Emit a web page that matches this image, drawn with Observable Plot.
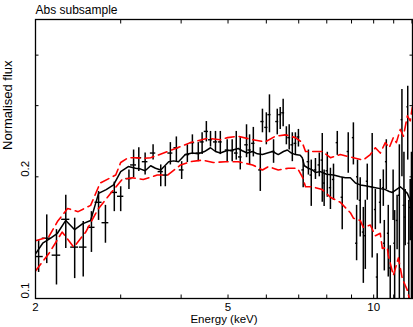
<!DOCTYPE html>
<html><head><meta charset="utf-8">
<script src="https://cdn.jsdelivr.net/npm/d3@7"></script>
<script src="https://cdn.jsdelivr.net/npm/@observablehq/plot@0.6"></script>
<style>
html,body{margin:0;padding:0;background:#fff;}
svg{display:block}
</style></head><body><div id="chart"></div>
<script>
// Observed spectrum (keV, normalised flux, 1-sigma lower/upper)
const energy = [2.03,2.11,2.21,2.31,2.41,2.51,2.61,2.70,2.79,2.91,3.00,3.12,3.19,3.27,3.37,3.50,3.63,3.71,3.80,3.91,
  4.01,4.12,4.22,4.34,4.42,4.51,4.60,4.71,4.82,4.98,5.10,5.20,5.30,5.46,5.54,5.64,5.83,5.89,6.00,6.09,
  6.21,6.32,6.41,6.50,6.60,6.69,6.79,6.89,6.99,7.15,7.33,7.43,7.58,7.72,7.83,7.90,8.02,8.14,8.26,8.41,
  8.61,8.86,9.08,9.22,9.26,9.38,9.52,9.61,9.70,9.93,10.08,10.17,10.32,10.47,10.52,10.62,10.72,10.82,10.97,11.05,
  11.18,11.30,11.44,11.55,11.62,11.76,11.82,11.90,11.97];
const flux = [0.127,0.141,0.128,0.157,0.134,0.134,0.150,0.173,0.154,0.183,0.179,0.198,0.214,0.223,0.218,0.229,0.206,0.202,0.229,0.236,
  0.208,0.227,0.243,0.229,0.244,0.259,0.247,0.244,0.244,0.233,0.232,0.229,0.224,0.240,0.233,0.242,0.208,0.274,0.265,0.285,
  0.231,0.274,0.285,0.288,0.254,0.250,0.240,0.242,0.251,0.208,0.218,0.202,0.208,0.214,0.220,0.193,0.207,0.188,0.197,0.243,
  0.178,0.231,0.250,0.137,0.200,0.175,0.146,0.143,0.195,0.189,0.166,0.113,0.173,0.188,0.137,0.218,0.145,0.119,0.183,0.137,
  0.156,0.180,0.277,0.170,0.159,0.298,0.137,0.168,0.150];
const fluxLo = [0.116,0.122,0.108,0.133,0.112,0.113,0.130,0.156,0.137,0.164,0.164,0.186,0.199,0.206,0.202,0.220,0.189,0.189,0.214,0.218,
  0.197,0.217,0.227,0.218,0.227,0.244,0.237,0.231,0.227,0.218,0.218,0.220,0.208,0.223,0.214,0.224,0.184,0.257,0.240,0.257,
  0.216,0.254,0.262,0.266,0.240,0.233,0.218,0.227,0.237,0.188,0.202,0.169,0.197,0.200,0.173,0.169,0.178,0.166,0.175,0.226,
  0.148,0.204,0.214,0.124,0.175,0.142,0.109,0.118,0.175,0.126,0.148,0.095,0.153,0.169,0.117,0.186,0.113,0.095,0.156,0.100,
  0.132,0.095,0.200,0.095,0.135,0.220,0.098,0.139,0.095];
const fluxHi = [0.139,0.161,0.148,0.180,0.158,0.155,0.164,0.184,0.170,0.194,0.189,0.208,0.233,0.236,0.229,0.240,0.214,0.212,0.243,0.251,
  0.218,0.240,0.254,0.243,0.257,0.274,0.259,0.259,0.259,0.247,0.247,0.259,0.250,0.269,0.254,0.265,0.236,0.294,0.288,0.319,
  0.247,0.294,0.297,0.311,0.266,0.269,0.257,0.257,0.262,0.220,0.233,0.220,0.222,0.229,0.256,0.208,0.230,0.210,0.215,0.259,
  0.199,0.257,0.272,0.170,0.220,0.199,0.168,0.175,0.215,0.256,0.186,0.129,0.197,0.208,0.156,0.247,0.170,0.135,0.208,0.165,
  0.180,0.240,0.329,0.230,0.186,0.335,0.175,0.197,0.230];
const binHalfWidth = 0.045; // keV

// Best-fit model (solid black)
const modelEnergy = [2.00,2.07,2.15,2.22,2.31,2.41,2.50,2.60,2.70,2.80,2.90,3.00,3.11,3.22,3.30,3.37,3.46,3.54,3.63,3.77,
  3.86,3.95,4.08,4.22,4.34,4.47,4.60,4.71,4.82,4.96,5.11,5.25,5.35,5.48,5.62,5.75,5.89,6.03,6.18,6.35,
  6.51,6.63,6.76,6.89,7.05,7.12,7.19,7.33,7.47,7.58,7.76,7.99,8.26,8.53,8.74,8.95,9.17,9.38,9.61,9.84,
  10.08,10.32,10.57,10.77,10.93,11.14,11.35,11.52,11.74,11.90,12.02];
const modelFlux = [0.129,0.137,0.141,0.145,0.156,0.148,0.153,0.156,0.182,0.186,0.191,0.206,0.212,0.210,0.209,0.207,0.213,0.210,0.208,0.218,
  0.219,0.218,0.227,0.229,0.228,0.231,0.236,0.231,0.229,0.232,0.233,0.235,0.232,0.229,0.231,0.228,0.227,0.229,0.231,0.227,
  0.231,0.233,0.229,0.227,0.226,0.223,0.213,0.210,0.208,0.205,0.206,0.203,0.202,0.200,0.199,0.199,0.193,0.191,0.190,0.189,
  0.188,0.187,0.186,0.184,0.183,0.186,0.189,0.186,0.182,0.175,0.166];

// Upper and lower envelopes (red dashed)
const upperEnergy = [2.00,2.13,2.22,2.33,2.45,2.60,2.72,2.93,3.00,3.11,3.22,3.34,3.46,3.68,3.93,4.18,4.53,4.82,4.99,5.25,
  5.62,5.97,6.26,6.57,6.89,7.12,7.23,7.47,7.83,8.14,8.53,9.08,9.52,9.84,10.08,10.32,10.57,10.77,10.98,11.14,
  11.35,11.52,11.74,11.90,12.02];
const upperFlux = [0.139,0.142,0.155,0.167,0.164,0.170,0.193,0.202,0.217,0.223,0.223,0.222,0.223,0.229,0.236,0.243,0.249,0.247,0.250,0.252,
  0.247,0.244,0.252,0.254,0.250,0.243,0.231,0.231,0.231,0.223,0.227,0.223,0.220,0.227,0.236,0.229,0.243,0.236,0.250,0.243,
  0.262,0.252,0.283,0.275,0.297];
const lowerEnergy = [2.00,2.13,2.27,2.40,2.54,2.69,2.88,3.02,3.17,3.34,3.57,3.75,3.99,4.18,4.43,4.66,4.94,5.25,5.62,5.89,
  6.06,6.35,6.66,6.96,7.12,7.23,7.47,7.83,8.14,8.53,8.95,9.08,9.38,9.52,9.84,10.08,10.32,10.42,10.67,10.72,
  10.98,11.25,11.46,11.73,11.95];
const lowerFlux = [0.117,0.129,0.146,0.134,0.146,0.166,0.184,0.197,0.199,0.197,0.202,0.202,0.214,0.218,0.220,0.217,0.218,0.218,0.214,0.208,
  0.212,0.208,0.210,0.210,0.200,0.189,0.189,0.186,0.178,0.173,0.163,0.158,0.156,0.150,0.152,0.143,0.145,0.133,0.134,0.128,
  0.114,0.126,0.112,0.105,0.096];

// Axes
const xTickValues = [2,3,4,5,6,7,8,9,10,11,12];
const xLabelValues = [2,5,10];
const xLabelText = ["2","5","10"];
const yTickValues = [0.1,0.2,0.3,0.4];
const yLabelValues = [0.1,0.2];
const yLabelText = ["0.1","0.2"];
const titleText = "Abs subsample";
const xTitle = "Energy (keV)";
const yTitle = "Normalised flux";

const points = energy.map((e, i) => ({e, f: flux[i], lo: fluxLo[i], hi: fluxHi[i]}));
const model = modelEnergy.map((e, i) => ({e, f: modelFlux[i]}));
const upper = upperEnergy.map((e, i) => ({e, f: upperFlux[i]}));
const lower = lowerEnergy.map((e, i) => ({e, f: lowerFlux[i]}));

const tick = 3.5;
const chart = Plot.plot({
  width: 413, height: 327,
  marginLeft: 35, marginRight: 1, marginTop: 19, marginBottom: 29,
  x: {type: "log", domain: [2, 12.03]},
  y: {type: "log", domain: [0.1, 0.49]},
  style: {fontFamily: "'Liberation Sans', Arial, Helvetica, sans-serif", fontSize: "11px", background: "white", color: "black"},
  marks: [
    Plot.ruleX(points, {x: "e", y1: "lo", y2: "hi", stroke: "black", strokeWidth: 1.5, clip: true}),
    Plot.ruleY(points, {y: "f", x1: d => d.e - binHalfWidth, x2: d => d.e + binHalfWidth, stroke: "black", strokeWidth: 1.4, clip: true}),
    Plot.line(model, {x: "e", y: "f", stroke: "black", strokeWidth: 1.5, clip: true}),
    Plot.line(upper, {x: "e", y: "f", stroke: "#ff0000", strokeWidth: 1.6, strokeDasharray: "9,5", clip: true}),
    Plot.line(lower, {x: "e", y: "f", stroke: "#ff0000", strokeWidth: 1.6, strokeDasharray: "9,5", clip: true}),
    Plot.frame({stroke: "black", strokeWidth: 1.3}),
    Plot.axisX(xTickValues, {anchor: "bottom", tickSize: tick, dy: -tick, fill: null, label: null, stroke: "black"}),
    Plot.axisX(xTickValues, {anchor: "top", tickSize: tick, dy: tick, fill: null, label: null, stroke: "black"}),
    Plot.axisY(yTickValues, {anchor: "left", tickSize: tick, dx: tick, fill: null, label: null, stroke: "black"}),
    Plot.axisY(yTickValues, {anchor: "right", tickSize: tick, dx: -tick, fill: null, label: null, stroke: "black"}),
    Plot.text(xLabelValues, {x: d => d, text: (d, i) => xLabelText[i], frameAnchor: "bottom", lineAnchor: "middle", dy: 8.5, fontSize: 11.5, fill: "black"}),
    Plot.text(yLabelValues, {y: d => d, text: (d, i) => yLabelText[i], frameAnchor: "left", lineAnchor: "middle", dx: -10.5, rotate: -90, fontSize: 11.5, fill: "black"}),
    Plot.text([xTitle], {text: d => d, frameAnchor: "bottom", lineAnchor: "middle", dy: 21, fontSize: 11.5, fill: "black"}),
    Plot.text([yTitle], {text: d => d, frameAnchor: "left", lineAnchor: "middle", dx: -27.5, dy: -9, rotate: -90, fontSize: 13, fill: "black"}),
    Plot.text([titleText], {text: d => d, frameAnchor: "top-left", textAnchor: "start", lineAnchor: "middle", dy: -9.5, fontSize: 12, fill: "black"})
  ]
});
document.getElementById("chart").appendChild(chart);
</script>
</body></html>
